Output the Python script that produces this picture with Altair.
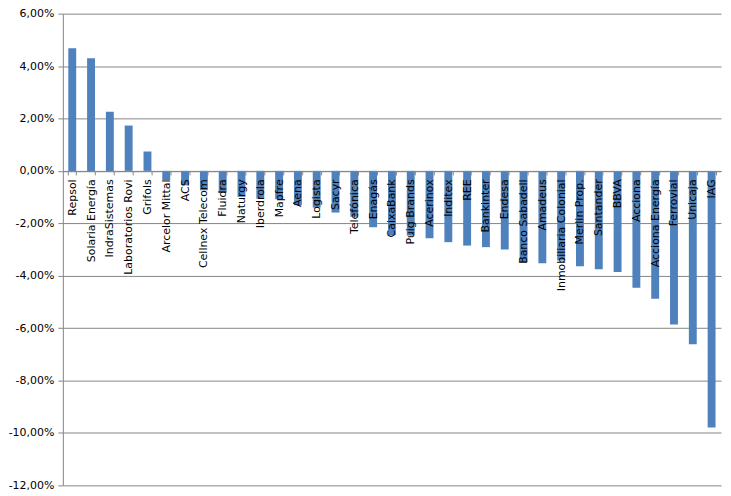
import altair as alt
import pandas as pd

companies = [
    "Repsol", "Solaria Energía", "IndraSistemas", "Laboratorios Rovi", "Grifols",
    "Arcelor Mittal", "ACS", "Cellnex Telecom", "Fluidra", "Naturgy",
    "Iberdrola", "Mapfre", "Aena", "Logista", "Sacyr",
    "Telefónica", "Enagás", "CaixaBank", "Puig Brands", "Acerinox",
    "Inditex", "REE", "Bankinter", "Endesa", "Banco Sabadell",
    "Amadeus", "Inmobiliaria Colonial", "Merlin Prop.", "Santander", "BBVA",
    "Acciona", "Acciona Energía", "Ferrovial", "Unicaja", "IAG",
]
values = [
    4.68, 4.30, 2.26, 1.73, 0.74,
    -0.35, -0.55, -0.74, -0.83, -0.99,
    -1.06, -1.08, -1.31, -1.40, -1.59,
    -1.75, -2.15, -2.45, -2.47, -2.57,
    -2.72, -2.85, -2.91, -3.00, -3.48,
    -3.52, -3.42, -3.64, -3.75, -3.86,
    -4.46, -4.88, -5.86, -6.62, -9.79,
]
y_ticks = [-12, -10, -8, -6, -4, -2, 0, 2, 4, 6]

df = pd.DataFrame({"empresa": companies, "variacion": values})

W, H = 660, 473
ymin, ymax = -12, 6
zero_offset = -(H * (0 - ymin) / (ymax - ymin))

font = "DejaVu Sans"
gray = "#868686"

y_label = "(datum.value < 0 ? '-' : '') + replace(format(abs(datum.value), '.2f'), '.', ',') + '%'"

chart = alt.Chart(df).mark_bar(color="#4F81BD").encode(
    x=alt.X(
        "empresa:N", sort=companies, title=None,
        scale=alt.Scale(paddingInner=0.58, paddingOuter=0.29),
        axis=alt.Axis(
            labelAngle=-90, offset=zero_offset, tickBand="extent",
            domainColor=gray, tickColor=gray, tickSize=4, labelPadding=4,
            labelFont=font, labelFontSize=11, labelColor="#000000",
            labelOverlap=False, zindex=1, grid=False,
        ),
    ),
    y=alt.Y(
        "variacion:Q", title=None,
        scale=alt.Scale(domain=[ymin, ymax], nice=False, zero=False),
        axis=alt.Axis(
            values=y_ticks, labelExpr=y_label,
            domainColor=gray, tickColor=gray, tickSize=5, labelPadding=4,
            gridColor=gray, gridOpacity=1, grid=True,
            labelFont=font, labelFontSize=11, labelColor="#000000",
        ),
    ),
).properties(
    width=W, height=H,
    autosize=alt.AutoSizeParams(type="none"),
    padding={"left": 55, "top": 5, "right": 2, "bottom": 9},
).configure_view(stroke=None)

chart.save("out.html", embed_options={"renderer": "svg", "actions": False})
